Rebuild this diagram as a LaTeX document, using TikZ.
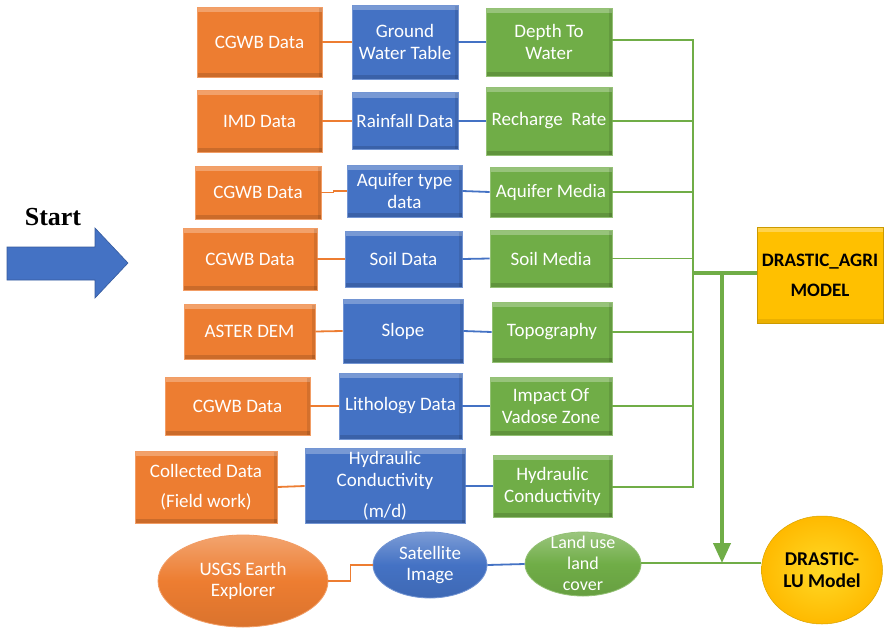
\documentclass[tikz,border=0pt]{standalone}
\usepackage{fontspec}
\setmainfont{Carlito}
\newfontfamily\startfont{Liberation Serif}
\usetikzlibrary{arrows.meta,shapes.geometric}
\definecolor{corange}{RGB}{237,125,49}
\definecolor{cblue}{RGB}{68,114,196}
\definecolor{cgreen}{RGB}{112,173,71}
\definecolor{cgold}{RGB}{255,192,0}
\definecolor{cline}{RGB}{112,173,71}
\begin{document}
\begin{tikzpicture}[x=1pt,y=-1pt,
  sz/.style 2 args={minimum width=#1pt,minimum height=#2pt},
  box/.style={rectangle,inner sep=0pt,align=center,text=white,
    font=\fontsize{19}{22}\selectfont,draw=#1!75!white,line width=0.8pt,fill=#1,
    path picture={
      \fill[white,opacity=.28] (path picture bounding box.north west) rectangle ([yshift=-5pt]path picture bounding box.north east);
      \fill[black,opacity=.14] (path picture bounding box.south west) rectangle ([yshift=4pt]path picture bounding box.south east);
      \fill[black,opacity=.10] (path picture bounding box.north east) rectangle ([xshift=-3pt]path picture bounding box.south east);}},
  ell/.style={ellipse,inner sep=0pt,align=center,text=white,
    font=\fontsize{19}{21}\selectfont,draw=#1!75!white,line width=0.8pt,
    top color=#1!70!white,bottom color=#1!92!black,middle color=#1},
  etext/.style={inner sep=0pt,align=center,text=white,font=\fontsize{18}{21}\selectfont},
  oline/.style={corange,line width=1.8pt},
  bline/.style={cblue,line width=1.8pt},
  gline/.style={cline,line width=1.8pt},
]
\useasboundingbox (0,0) rectangle (886,629);
\fill[white] (0,0) rectangle (886,629);

% Start arrow
\node[inner sep=0pt,font=\startfont\bfseries\fontsize{26}{26}\selectfont] (start) at (53,217) {Start};
\filldraw[fill=cblue,draw=cblue!80!black,line width=0.6pt]
  (7,247) -- (95,247) -- (95,228) -- (128,263) -- (95,298) -- (95,280) -- (7,280) -- cycle;

% Row 1
\node[box=corange,sz={125}{70}] (O1) at (259.5,42) {CGWB Data};
\node[box=cblue,sz={106}{74}] (B1) at (405,42) {Ground\\Water Table};
\node[box=cgreen,sz={126}{68}] (G1) at (549,42) {Depth To\\Water};
% Row 2
\node[box=corange,sz={125}{62}] (O2) at (259.5,121) {IMD Data};
\node[box=cblue,sz={106}{57}] (B2) at (405,121) {Rainfall Data};
\node[box=cgreen,sz={126}{68}] (G2) at (549,121) {Recharge~~Rate};
% Row 3
\node[box=corange,sz={126}{53}] (O3) at (258,192.5) {CGWB Data};
\node[box=cblue,sz={115}{52}] (B3) at (404.5,191) {Aquifer type\\data};
\node[box=cgreen,sz={122}{50}] (G3) at (551,192) {Aquifer Media};
% Row 4
\node[box=corange,sz={134}{62}] (O4) at (250,259) {CGWB Data};
\node[box=cblue,sz={117}{56}] (B4) at (403.5,259) {Soil Data};
\node[box=cgreen,sz={122}{57}] (G4) at (551,258.5) {Soil Media};
% Row 5
\node[box=corange,sz={131}{55}] (O5) at (249.5,331.5) {ASTER DEM};
\node[box=cblue,sz={120}{64}] (B5) at (403,331) {Slope};
\node[box=cgreen,sz={120}{60}] (G5) at (552,332) {Topography};
% Row 6
\node[box=corange,sz={145}{58}] (O6) at (237.5,406) {CGWB Data};
\node[box=cblue,sz={123}{66}] (B6) at (400.5,406) {Lithology Data};
\node[box=cgreen,sz={122}{58}] (G6) at (551,406) {Impact Of\\Vadose Zone};
% Row 7
\node[box=corange,sz={142}{72}] (O7) at (206,487) {Collected Data\\[8pt](Field work)};
\node[box=cblue,sz={160}{75}] (B7) at (385,486) {Hydraulic\\Conductivity\\[9pt](m/d)};
\node[box=cgreen,sz={119}{62}] (G7) at (552.5,486) {Hydraulic\\Conductivity};
% Row 8
\node[ell=corange,minimum width=170pt,minimum height=92pt] (E1) at (243,581) {USGS Earth\\Explorer};
\node[ell=cblue,minimum width=114pt,minimum height=66pt] (E2) at (430,565) {Satellite\\Image};
\node[ell=cgreen,minimum width=116pt,minimum height=64pt] (E3) at (583,564) {};
\node[etext] (E3t) at (583,563) {Land use\\land\\cover};

% Models
\node[rectangle,inner sep=0pt,align=center,sz={126}{96},fill=cgold,draw=cgold!80!black,line width=0.6pt,
  font=\bfseries\fontsize{19}{30}\selectfont,
  path picture={
      \fill[white,opacity=.3] (path picture bounding box.north west) rectangle ([yshift=-5pt]path picture bounding box.north east);
      \fill[black,opacity=.08] (path picture bounding box.south west) rectangle ([yshift=4pt]path picture bounding box.south east);}]
  (AGRI) at (820,275) {DRASTIC\_AGRI\\MODEL};
\node[ellipse,inner sep=0pt,align=center,minimum width=121pt,minimum height=108pt,
  inner color=cgold!70!yellow!85!white,outer color=cgold!90!orange,draw=cgold!85!black,line width=0.5pt,
  font=\bfseries\fontsize{19.5}{22}\selectfont] (LU) at (822,570) {DRASTIC-\\LU Model};

% Row connectors
\foreach \i in {1,2,4,5,6,7}{
  \draw[oline] (O\i.east) -- (B\i.west);
}
\draw[oline] (O3.east) -- ++(12,0) |- (B3.west);
\foreach \i in {1,2,3,4,5,6,7}{
  \draw[bline] (B\i.east) -- (G\i.west);
}
\draw[oline] (E1.east) -- ++(22,0) |- (E2.west);
\draw[bline] (E2.east) -- (E3.west);

% Green bus
\coordinate (bt) at (693,40);
\coordinate (bb) at (693,487);
\draw[gline] (G1.east |- bt) -- (bt) -- (bb) -- (G7.east |- bb);
\foreach \i in {2,3,4,5,6}{
  \draw[gline] (G\i.east) -- (G\i.east -| bt);
}
\coordinate (j) at (693,273);
\draw[cline,line width=3.5pt] (j) -- (j -| AGRI.west);
\coordinate (k) at (722,273);
\coordinate (m) at (722,563);
\draw[gline] (E3.east |- m) -- (m -| LU.west);
\draw[cline,line width=4pt,-{Triangle[width=17pt,length=20pt]}] ([yshift=2pt]k) -- (m);
\end{tikzpicture}
\end{document}
